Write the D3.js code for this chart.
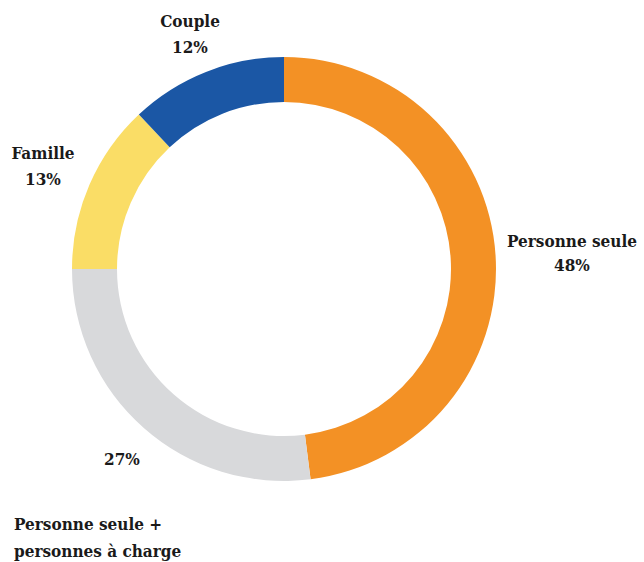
<!DOCTYPE html>
<html>
<head>
<meta charset="utf-8">
<script src="https://cdn.jsdelivr.net/npm/d3@7"></script>
<style>
  html, body { margin: 0; padding: 0; background: #fff; }
  svg text { font-family: "DejaVu Serif Condensed", "DejaVu Serif", serif; font-stretch: condensed; font-weight: bold; fill: #1a1a1a; }
</style>
</head>
<body>
<svg id="chart" width="644" height="562"></svg>
<script>
// Household composition shares (%)
const categories = ["Personne seule", "Personne seule + personnes à charge", "Famille", "Couple"];
const values = [48, 27, 13, 12];
const colors = ["#F39125", "#D8D9DB", "#FADD66", "#1B57A5"];

// Label lines per slice, with anchor point and alignment
const labelLines = [
  [["Personne seule", 572, 247, "middle"], ["48%", 572, 271, "middle"]],
  [["27%", 122, 465, "middle"], ["Personne seule +", 14, 530, "start"], ["personnes à charge", 14, 557, "start"]],
  [["Famille", 43, 159, "middle"], ["13%", 43, 185, "middle"]],
  [["Couple", 190, 27, "middle"], ["12%", 190, 53, "middle"]]
];

const svg = d3.select("#chart");
const cx = 284, cy = 269, outerR = 212, innerR = 167;

const pie = d3.pie().sort(null).value(d => d)(values);
const arc = d3.arc().innerRadius(innerR).outerRadius(outerR);

const g = svg.append("g").attr("transform", `translate(${cx},${cy})`);
g.selectAll("path")
  .data(pie)
  .join("path")
  .attr("d", arc)
  .attr("fill", (d, i) => colors[i]);

const labels = svg.append("g").style("font-size", "17px");
labelLines.forEach(lines => {
  lines.forEach(([t, x, y, a]) => {
    labels.append("text")
      .attr("x", x).attr("y", y)
      .attr("text-anchor", a)
      .text(t);
  });
});
</script>
</body>
</html>
